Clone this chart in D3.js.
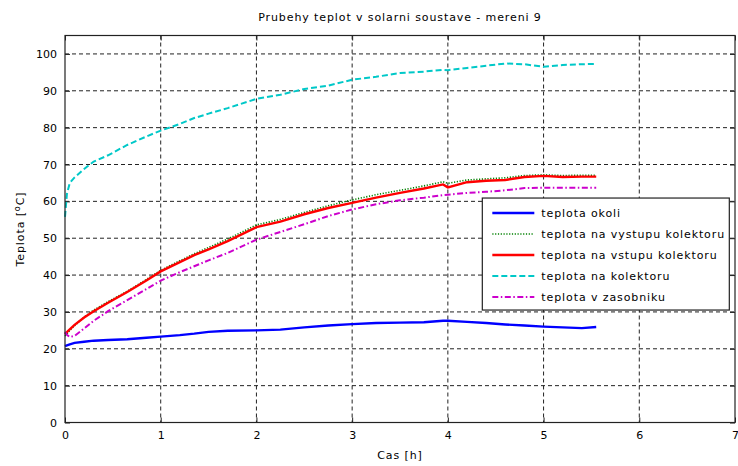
<!DOCTYPE html>
<html>
<head>
<meta charset="utf-8">
<script src="https://cdn.jsdelivr.net/npm/d3@7"></script>
<style>
    body { margin: 0; background: #fff; }
    svg text { font-family: "DejaVu Sans", sans-serif; font-size: 11px; fill: #000; }
    .spaced { letter-spacing: 0.9px; }
</style>
</head>
<body>
<div id="chart"></div>
<script>

// cas [h] - time stamps of the sampled readings
var cas = [0, 0.02, 0.05, 0.1, 0.2, 0.3, 0.45, 0.65, 0.85, 1.0, 1.2, 1.35, 1.5, 1.7, 2.0, 2.25,
    2.5, 2.75, 3.0, 3.25, 3.5, 3.75, 3.95, 4.0, 4.2, 4.4, 4.6, 4.8, 5.0, 5.2, 5.4, 5.55];

// temperatures
var okoli = [20.7, 20.9, 21.2, 21.6, 21.9, 22.2, 22.4, 22.6, 23.0, 23.3, 23.7, 24.1, 24.6, 24.9, 25.0, 25.2,
    25.8, 26.3, 26.7, 27.0, 27.1, 27.2, 27.6, 27.6, 27.3, 27.0, 26.6, 26.3, 26.0, 25.8, 25.6, 25.9];

var vystup = [23.5, 24.0, 25.0, 26.3, 28.6, 30.5, 32.8, 35.6, 38.8, 41.3, 43.9, 45.8, 47.5, 49.8, 53.6, 55.1,
    57.0, 58.8, 60.4, 61.8, 63.0, 64.2, 65.3, 64.9, 65.8, 66.1, 66.4, 67.0, 67.2, 67.0, 67.1, 67.1];

var vstup = [24.0, 24.5, 25.3, 26.5, 28.5, 30.2, 32.5, 35.4, 38.5, 41.0, 43.5, 45.4, 47.0, 49.2, 53.0, 54.5,
    56.5, 58.2, 59.6, 61.0, 62.3, 63.5, 64.6, 63.8, 65.2, 65.6, 65.8, 66.6, 66.9, 66.6, 66.7, 66.7];

var kolektor = [55.8, 62.0, 65.0, 66.5, 68.8, 70.8, 72.5, 75.3, 77.6, 79.2, 81.0, 82.6, 83.8, 85.3, 87.8, 88.9,
    90.5, 91.4, 93.0, 93.8, 94.8, 95.2, 95.7, 95.6, 96.2, 96.8, 97.4, 97.2, 96.5, 97.0, 97.2, 97.3];

var zasobnik = [24.5, 23.8, 23.2, 23.5, 25.5, 27.6, 30.2, 33.2, 36.2, 38.5, 40.8, 42.4, 44.0, 46.0, 49.6, 51.7,
    53.8, 56.0, 57.8, 59.2, 60.3, 61.0, 61.7, 61.8, 62.3, 62.6, 63.0, 63.6, 63.7, 63.7, 63.7, 63.7];

var xTicks = [0, 1, 2, 3, 4, 5, 6, 7];
var yTicks = [0, 10, 20, 30, 40, 50, 60, 70, 80, 90, 100];


var series = [
    { name: 'teplota okoli', values: okoli, colour: '#0000ff', dash: null, widthPx: 2.4 },
    { name: 'teplota na vystupu kolektoru', values: vystup, colour: '#008000', dash: '1.2,1.6', widthPx: 1.6 },
    { name: 'teplota na vstupu kolektoru', values: vstup, colour: '#ff0000', dash: null, widthPx: 2.4 },
    { name: 'teplota na kolektoru', values: kolektor, colour: '#00c8c8', dash: '6,3', widthPx: 2 },
    { name: 'teplota v zasobniku', values: zasobnik, colour: '#cc00cc', dash: '6,2.5,1.5,2.5', widthPx: 2 }
];


var width = 738, height = 466;
var margin = { top: 35.5, right: 3, bottom: 43.5, left: 65 };
var w = width - margin.left - margin.right;
var h = height - margin.top - margin.bottom;

var svg = d3.select('#chart')
    .append('svg')
    .attr('width', width)
    .attr('height', height);

var g = svg.append('g')
    .attr('transform', 'translate(' + margin.left + ',' + margin.top + ')');

var xScale = d3.scaleLinear().domain([0, 7]).range([0, w]);
var yScale = d3.scaleLinear().domain([0, 105]).range([h, 0]);


// grid lines (dashed, matlab style)
g.selectAll('.gridx')
    .data(xTicks.slice(1, -1))
    .enter()
    .append('line')
    .attr('class', 'gridx')
    .attr('x1', d => xScale(d)).attr('x2', d => xScale(d))
    .attr('y1', 0).attr('y2', h)
    .attr('stroke', '#222').attr('stroke-width', 1)
    .attr('stroke-dasharray', '4,3');

g.selectAll('.gridy')
    .data(yTicks.slice(1))
    .enter()
    .append('line')
    .attr('class', 'gridy')
    .attr('x1', 0).attr('x2', w)
    .attr('y1', d => yScale(d)).attr('y2', d => yScale(d))
    .attr('stroke', '#222').attr('stroke-width', 1)
    .attr('stroke-dasharray', '4,3');


// axes - ticks pointing inwards
var xAxis = g.append('g')
    .attr('transform', 'translate(0,' + h + ')')
    .call(d3.axisBottom(xScale).tickValues(xTicks).tickSize(-5).tickPadding(9).tickFormat(d3.format('d')));

var xTop = g.append('g')
    .call(d3.axisTop(xScale).tickValues(xTicks).tickSize(-5).tickFormat(''));

var yAxis = g.append('g')
    .call(d3.axisLeft(yScale).tickValues(yTicks).tickSize(-5).tickPadding(8));

var yRight = g.append('g')
    .attr('transform', 'translate(' + w + ',0)')
    .call(d3.axisRight(yScale).tickValues(yTicks).tickSize(-5).tickFormat(''));

g.selectAll('.domain').remove();
g.selectAll('.tick line').attr('stroke', '#222');
g.selectAll('.tick text').style('font-size', '11px').attr('fill', '#000');


// lines
var line = d3.line()
    .x((d, i) => xScale(cas[i]))
    .y(d => yScale(d));

g.selectAll('.serie')
    .data(series)
    .enter()
    .append('path')
    .attr('class', 'serie')
    .attr('d', d => line(d.values))
    .attr('fill', 'none')
    .attr('stroke', d => d.colour)
    .attr('stroke-width', d => d.widthPx)
    .attr('stroke-dasharray', d => d.dash);


// frame
g.append('rect')
    .attr('width', w).attr('height', h)
    .attr('fill', 'none')
    .attr('stroke', '#222')
    .attr('stroke-width', 1.2);


// legend
var legend = g.append('g')
    .attr('transform', 'translate(' + (xScale(4.36)) + ',' + (yScale(60.9)) + ')');

legend.append('rect')
    .attr('width', 247).attr('height', 112)
    .attr('fill', '#fff')
    .attr('stroke', '#222')
    .attr('stroke-width', 1.2);

var items = legend.selectAll('.item')
    .data(series)
    .enter()
    .append('g')
    .attr('class', 'item')
    .attr('transform', (d, i) => 'translate(0,' + (15 + i * 21) + ')');

items.append('line')
    .attr('x1', 10).attr('x2', 52)
    .attr('stroke', d => d.colour)
    .attr('stroke-width', d => d.widthPx)
    .attr('stroke-dasharray', d => d.dash);

items.append('text')
    .attr('class', 'spaced')
    .attr('x', 59)
    .attr('dy', '0.35em')
    .text(d => d.name);


// title and axis labels
svg.append('text')
    .attr('class', 'spaced')
    .attr('x', margin.left + w / 2)
    .attr('y', 21)
    .attr('text-anchor', 'middle')
    .text('Prubehy teplot v solarni soustave - mereni 9');

svg.append('text')
    .attr('class', 'spaced')
    .attr('x', margin.left + w / 2)
    .attr('y', 459)
    .attr('text-anchor', 'middle')
    .text('Cas [h]');

var ylab = svg.append('text')
    .attr('class', 'spaced')
    .attr('transform', 'translate(24,' + (margin.top + h / 2) + ') rotate(-90)')
    .attr('text-anchor', 'middle');

ylab.append('tspan').text('Teplota [');
ylab.append('tspan').attr('baseline-shift', 'super').style('font-size', '8px').text('o');
ylab.append('tspan').text('C]');

</script>
</body>
</html>
